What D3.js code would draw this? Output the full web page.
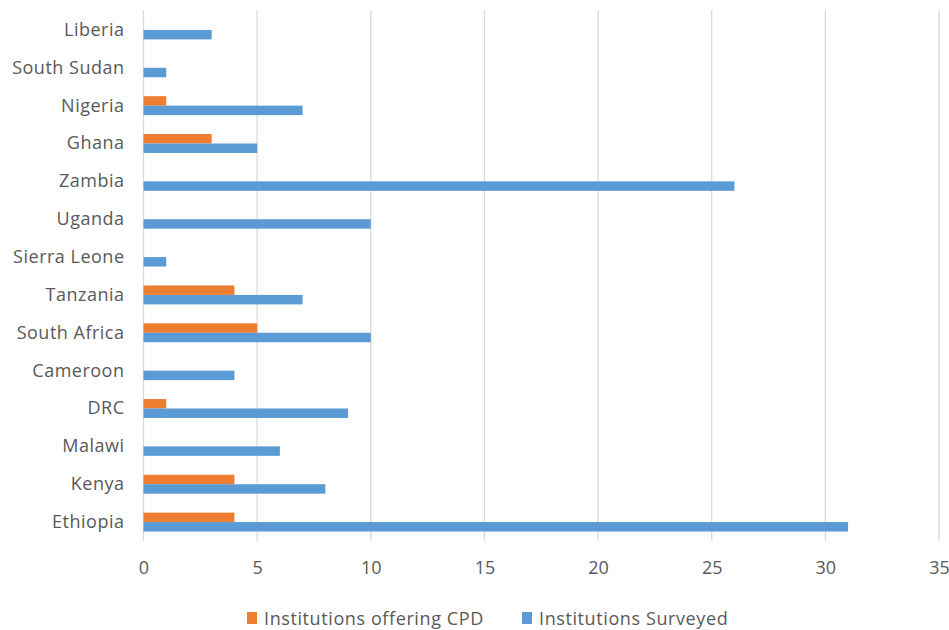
<!DOCTYPE html>
<html>
<head>
<meta charset="utf-8">
<script src="https://cdn.jsdelivr.net/npm/d3@7"></script>
<style>
  html, body { margin: 0; padding: 0; background: #fff; }
  svg text { font-family: "Open Sans", sans-serif; fill: #595959; }
</style>
</head>
<body>
<svg id="chart" width="949" height="630"></svg>
<script>
// Countries listed top to bottom
const countries = ["Liberia", "South Sudan", "Nigeria", "Ghana", "Zambia", "Uganda",
  "Sierra Leone", "Tanzania", "South Africa", "Cameroon", "DRC", "Malawi", "Kenya", "Ethiopia"];
const offeringCPD = [0, 0, 1, 3, 0, 0, 0, 4, 5, 0, 1, 0, 4, 4];
const surveyed    = [3, 1, 7, 5, 26, 10, 1, 7, 10, 4, 9, 6, 8, 31];
const xTicks = [0, 5, 10, 15, 20, 25, 30, 35];
const seriesNames = ["Institutions offering CPD", "Institutions Surveyed"];
const seriesColors = ["#ED7D31", "#5B9BD5"];

const svg = d3.select("#chart");
const fontSize = 18;
const x = d3.scaleLinear().domain([0, 35]).range([143.5, 939]);
const y = d3.scaleBand().domain(countries).range([11, 541]).paddingInner(0.5).paddingOuter(0.25);
const sub = d3.scaleBand().domain([0, 1]).range([0, y.bandwidth()]);

// vertical gridlines
svg.append("g").selectAll("line").data(xTicks).join("line")
  .attr("x1", d => x(d)).attr("x2", d => x(d))
  .attr("y1", 10).attr("y2", 541)
  .attr("stroke", "#D9D9D9").attr("stroke-width", 1.3);

// bars
const rows = countries.map((c, i) => ({ c, vals: [offeringCPD[i], surveyed[i]] }));
const g = svg.append("g").selectAll("g").data(rows).join("g")
  .attr("transform", d => `translate(0,${y(d.c)})`);
g.selectAll("rect").data(d => d.vals.map((v, k) => ({ v, k }))).join("rect")
  .attr("x", x(0))
  .attr("y", d => sub(d.k))
  .attr("width", d => x(d.v) - x(0))
  .attr("height", sub.bandwidth())
  .attr("fill", d => seriesColors[d.k]);

// category labels
const yAxis = d3.axisLeft(y).tickSize(0).tickPadding(19);
const ya = svg.append("g").attr("transform", `translate(${x(0)},0)`).call(yAxis);
ya.select(".domain").remove();
ya.selectAll("text").attr("font-size", fontSize).attr("dy", "0.33em")
  .style("font-family", "'Open Sans', sans-serif").style("letter-spacing", "0.5px").attr("fill", "#595959");

// value axis
const xAxis = d3.axisBottom(x).tickValues(xTicks).tickSize(0).tickPadding(13);
const xa = svg.append("g").attr("transform", "translate(0,548)").call(xAxis);
xa.select(".domain").remove();
xa.selectAll("text").attr("font-size", fontSize)
  .style("font-family", "'Open Sans', sans-serif").attr("fill", "#595959");

// legend
const legendX = [247, 522];
const lg = svg.append("g").selectAll("g").data(seriesNames).join("g")
  .attr("transform", (d, i) => `translate(${legendX[i]},612)`);
lg.append("rect").attr("width", 10).attr("height", 12).attr("fill", (d, i) => seriesColors[i]);
lg.append("text").attr("x", 17).attr("y", 12.5).attr("font-size", fontSize)
  .style("letter-spacing", "0.6px").text(d => d);
</script>
</body>
</html>
